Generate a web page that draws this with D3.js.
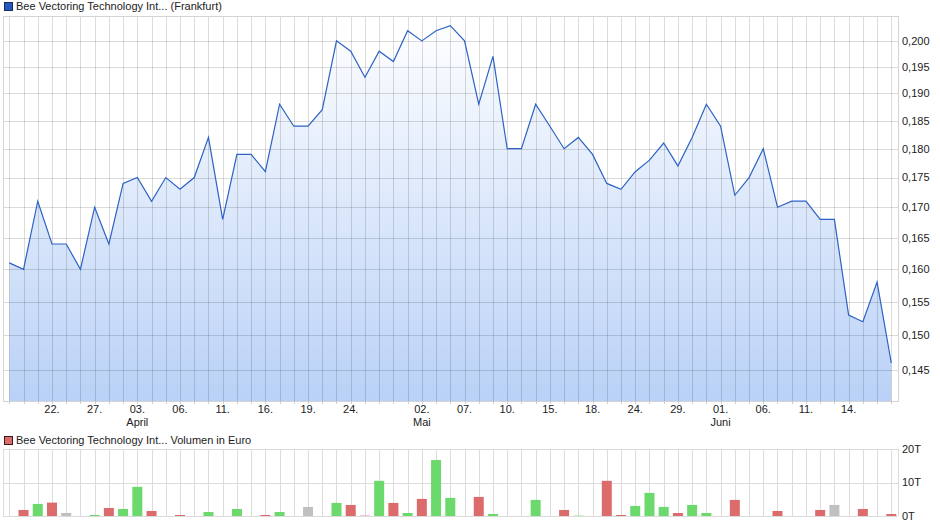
<!DOCTYPE html>
<html>
<head>
<meta charset="utf-8">
<script src="https://cdn.jsdelivr.net/npm/d3@7"></script>
<style>
  html, body { margin: 0; padding: 0; background: #fff; }
  svg { display: block; font-family: "Liberation Sans", Arial, sans-serif; }
</style>
</head>
<body>
<svg id="chart" width="940" height="526"></svg>
<script>
// ---- DATA ----
const dates = [
  "2018-03-19","2018-03-20","2018-03-21","2018-03-22","2018-03-23","2018-03-26","2018-03-27","2018-03-28","2018-03-29",
  "2018-04-03","2018-04-04","2018-04-05","2018-04-06","2018-04-09","2018-04-10","2018-04-11","2018-04-12","2018-04-13",
  "2018-04-16","2018-04-17","2018-04-18","2018-04-19","2018-04-20","2018-04-23","2018-04-24","2018-04-25","2018-04-26",
  "2018-04-27","2018-04-30","2018-05-02","2018-05-03","2018-05-04","2018-05-07","2018-05-08","2018-05-09","2018-05-10",
  "2018-05-11","2018-05-14","2018-05-15","2018-05-16","2018-05-17","2018-05-18","2018-05-22","2018-05-23","2018-05-24",
  "2018-05-25","2018-05-28","2018-05-29","2018-05-30","2018-05-31","2018-06-01","2018-06-04","2018-06-05","2018-06-06",
  "2018-06-07","2018-06-08","2018-06-11","2018-06-12","2018-06-13","2018-06-14","2018-06-15","2018-06-18","2018-06-19"
];
const prices = [
  0.161,0.160,0.171,0.164,0.164,0.160,0.170,0.164,0.174,
  0.175,0.171,0.175,0.173,0.175,0.182,0.168,0.179,0.179,
  0.176,0.188,0.184,0.184,0.187,0.200,0.198,0.193,0.198,
  0.196,0.202,0.200,0.202,0.203,0.200,0.188,0.197,0.180,
  0.180,0.188,0.184,0.180,0.182,0.179,0.174,0.173,0.176,
  0.178,0.181,0.177,0.182,0.188,0.184,0.172,0.175,0.180,
  0.170,0.171,0.171,0.168,0.168,0.153,0.152,0.158,0.146
];
const volumes = [
  0,1800,3600,4000,900,0,300,2400,2100,
  8700,1500,0,300,0,1200,0,2100,0,
  300,1200,0,2700,0,3900,3300,100,10500,
  3900,900,5100,16700,5400,0,5700,600,0,
  0,4800,0,1800,100,0,10500,300,3000,
  6900,2700,900,3300,900,0,4800,0,0,
  1500,0,0,1800,3300,0,2100,0,600
];
const priceTicks = [0.145,0.150,0.155,0.160,0.165,0.170,0.175,0.180,0.185,0.190,0.195,0.200];
const volumeTicks = [0, 10000, 20000];
const dayTickDates = ["2018-03-22","2018-03-27","2018-04-03","2018-04-06","2018-04-11","2018-04-16","2018-04-19","2018-04-24",
  "2018-05-02","2018-05-07","2018-05-10","2018-05-15","2018-05-18","2018-05-24","2018-05-29","2018-06-01","2018-06-06","2018-06-11","2018-06-14"];
const monthTicks = [["2018-04-03","April"],["2018-05-02","Mai"],["2018-06-01","Juni"]];
const titlePrice = "Bee Vectoring Technology Int... (Frankfurt)";
const titleVolume = "Bee Vectoring Technology Int... Volumen in Euro";

// ---- LAYOUT ----
const svg = d3.select("#chart");
const L = 3, R = 898;
const pTop = 16, pBot = 401;
const vTop = 449, vBot = 516;
const textColor = "#222";
const gridColor = "#dcdcdc";

const x = d3.scalePoint().domain(dates).range([9.3, 891.3]);
const y = d3.scaleLog().domain([0.14068, 0.20492]).range([pBot, pTop]);
const yv = d3.scaleLinear().domain([0, 20000]).range([vBot, vTop]);

// gradient
const defs = svg.append("defs");
const grad = defs.append("linearGradient").attr("id","fillGrad")
  .attr("gradientUnits","userSpaceOnUse").attr("x1",0).attr("y1",pTop).attr("x2",0).attr("y2",pBot);
grad.append("stop").attr("offset","0%").attr("stop-color","#ffffff");
grad.append("stop").attr("offset","100%").attr("stop-color","#b9d1f7");

// ---- PRICE PANEL ----
const gP = svg.append("g");
gP.append("rect").attr("x",L+0.5).attr("y",pTop+0.5).attr("width",R-L).attr("height",pBot-pTop)
  .attr("fill","#fff").attr("stroke","none");

// area
const area = d3.area().x((d,i)=>x(dates[i])).y0(pBot).y1(d=>y(d));
gP.append("path").datum(prices).attr("d",area).attr("fill","url(#fillGrad)");

// grid lines (semi-transparent so they show through fill)
gP.append("g").selectAll("line").data(dates).join("line")
  .attr("x1",d=>Math.round(x(d))+0.5).attr("x2",d=>Math.round(x(d))+0.5)
  .attr("y1",pTop).attr("y2",pBot)
  .attr("stroke","#000").attr("stroke-opacity",0.14);
gP.append("g").selectAll("line").data(priceTicks).join("line")
  .attr("x1",L).attr("x2",R)
  .attr("y1",d=>Math.round(y(d))+0.5).attr("y2",d=>Math.round(y(d))+0.5)
  .attr("stroke","#000").attr("stroke-opacity",0.14);

// frame
gP.append("rect").attr("x",L+0.5).attr("y",pTop+0.5).attr("width",R-L).attr("height",pBot-pTop)
  .attr("fill","none").attr("stroke","#d4d4d4");

// line
const line = d3.line().x((d,i)=>x(dates[i])).y(d=>y(d));
gP.append("path").datum(prices).attr("d",line).attr("fill","none")
  .attr("stroke","#2b62c4").attr("stroke-width",1.2).attr("stroke-linejoin","miter");

// small ticks under axis
gP.append("g").selectAll("line").data(dates).join("line")
  .attr("x1",d=>Math.round(x(d))+0.5).attr("x2",d=>Math.round(x(d))+0.5)
  .attr("y1",pBot).attr("y2",pBot+3).attr("stroke","#ccc");

// y-axis labels
gP.append("g").selectAll("text").data(priceTicks).join("text")
  .attr("x",902).attr("y",d=>y(d)).attr("dy","0.35em")
  .attr("font-size",11).attr("fill",textColor)
  .text(d=>d3.format(".3f")(d).replace(".",","));

// x labels
gP.append("g").selectAll("text").data(dayTickDates).join("text")
  .attr("x",d=>x(d)).attr("y",413).attr("text-anchor","middle")
  .attr("font-size",11).attr("fill",textColor)
  .text(d=>d.slice(8)+".");
gP.append("g").selectAll("text").data(monthTicks).join("text")
  .attr("x",d=>x(d[0])).attr("y",426).attr("text-anchor","middle")
  .attr("font-size",11).attr("fill",textColor)
  .text(d=>d[1]);

// legend 1
svg.append("rect").attr("x",4.5).attr("y",2.5).attr("width",8).attr("height",8)
  .attr("fill","#2358c0").attr("stroke","#1a2a50");
svg.append("text").attr("x",16).attr("y",10).attr("font-size",11).attr("fill",textColor).text(titlePrice);

// ---- VOLUME PANEL ----
const gV = svg.append("g");
gV.append("g").selectAll("line").data(dates).join("line")
  .attr("x1",d=>Math.round(x(d))+0.5).attr("x2",d=>Math.round(x(d))+0.5)
  .attr("y1",vTop).attr("y2",vBot).attr("stroke",gridColor);
gV.append("g").selectAll("line").data(volumeTicks).join("line")
  .attr("x1",L).attr("x2",R)
  .attr("y1",d=>Math.round(yv(d))+0.5).attr("y2",d=>Math.round(yv(d))+0.5)
  .attr("stroke",gridColor);
gV.append("line").attr("x1",L+0.5).attr("x2",L+0.5).attr("y1",vTop).attr("y2",vBot).attr("stroke",gridColor);
gV.append("line").attr("x1",R+0.5).attr("x2",R+0.5).attr("y1",vTop).attr("y2",vBot).attr("stroke",gridColor);

const barColor = i => {
  if (i === 0) return "#c0c0c0";
  if (prices[i] > prices[i-1]) return "#6bd96b";
  if (prices[i] < prices[i-1]) return "#dc6b6b";
  return "#c0c0c0";
};
gV.append("g").selectAll("rect").data(volumes).join("rect")
  .attr("x",(d,i)=>x(dates[i])-5).attr("width",10)
  .attr("y",d=>yv(d)).attr("height",d=>vBot-yv(d))
  .attr("fill",(d,i)=>barColor(i))
  .attr("display",d=>d>0?null:"none");

gV.append("g").selectAll("text").data(volumeTicks).join("text")
  .attr("x",902).attr("y",d=>yv(d)).attr("dy","0.35em")
  .attr("font-size",11).attr("fill",textColor)
  .text(d=>(d/1000)+"T");

svg.append("rect").attr("x",4.5).attr("y",436.5).attr("width",8).attr("height",8)
  .attr("fill","#dc6b6b").attr("stroke","#3a1a1a");
svg.append("text").attr("x",16).attr("y",444).attr("font-size",11).attr("fill",textColor).text(titleVolume);
</script>
</body>
</html>
